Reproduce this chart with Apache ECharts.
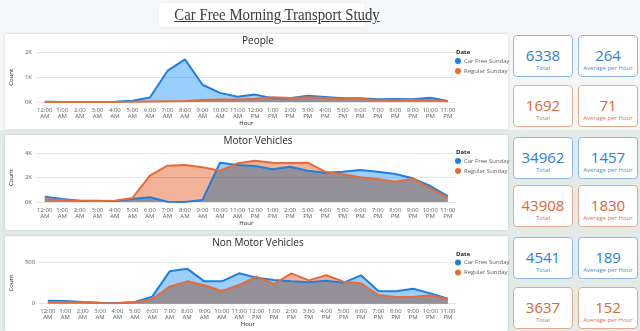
<!DOCTYPE html>
<html><head><meta charset="utf-8">
<script src="https://cdn.jsdelivr.net/npm/echarts/dist/echarts.min.js"></script>
<style>
html,body{margin:0;padding:0;width:640px;height:331px;overflow:hidden;background:#f4f6f7;font-family:'Open Sans',sans-serif;}
.kpi{position:absolute;width:58px;background:#fff;border-radius:4px;border:1px solid;text-align:center;z-index:2;}
.kpi .num{position:absolute;left:0;right:0;font-size:15px;line-height:18px;}
.kpi .lab{position:absolute;left:0;right:0;font-size:6px;line-height:8px;}
#title{position:absolute;left:159px;top:3px;width:206px;height:24px;background:#fff;border-radius:3px;box-shadow:0 0 2px rgba(0,0,0,0.08);text-align:center;font-family:'Liberation Serif',serif;font-size:17px;line-height:24px;color:#3b3b3b;z-index:2;}
#title span{display:inline-block;transform:scaleX(0.87);white-space:nowrap;text-decoration:underline;}
#chart{position:absolute;left:0;top:0;width:640px;height:331px;z-index:1;}
</style></head>
<body>
<div id="chart"></div>
<div id="title"><span>Car Free Morning Transport Study</span></div>
<div id="kpis"></div>
<script>
const hours = ['12:00\nAM','1:00\nAM','2:00\nAM','3:00\nAM','4:00\nAM','5:00\nAM','6:00\nAM','7:00\nAM','8:00\nAM','9:00\nAM','10:00\nAM','11:00\nAM',
               '12:00\nPM','1:00\nPM','2:00\nPM','3:00\nPM','4:00\nPM','5:00\nPM','6:00\nPM','7:00\nPM','8:00\nPM','9:00\nPM','10:00\nPM','11:00\nPM'];
const seriesNames = ['Car Free Sunday','Regular Sunday'];
const chartTitles = ['People','Motor Vehicles','Non Motor Vehicles'];

const peopleCarFree = [10,5,5,5,10,50,180,1260,1730,700,370,210,300,150,150,250,200,150,150,110,120,110,170,40];
const peopleRegular = [5,5,5,5,5,10,20,30,40,80,100,100,130,190,160,190,160,110,130,70,70,90,70,30];

const motorCarFree = [435,246,107,100,80,246,383,25,10,164,3227,3038,2955,2683,2900,2573,2408,2490,2627,2490,2300,1945,1313,490];
const motorRegular = [218,164,107,80,107,328,2162,2983,3038,2847,2573,3175,3394,3230,3200,3230,2490,2271,2025,1888,1670,1915,1122,355];

const nonMotorCarFree = [36,33,20,12,8,20,85,391,423,270,270,367,314,286,270,258,278,254,343,153,149,181,125,60];
const nonMotorRegular = [20,17,17,8,5,17,57,206,270,222,153,226,326,238,367,282,343,266,246,105,81,81,101,53];

const yMax = [2000, 4000, 500];
const yInterval = [1000, 2000, 500];

const kpiTotals = [[6338,1692],[34962,43908],[4541,3637]];
const kpiAverages = [[264,71],[1457,1830],[189,152]];
const kpiLabels = ['Total','Average per Hour'];

// KPI cards
const rowTops = [[35,85],[137,185],[237,287]];
const colLefts = [513,578];
const kpiStyle = [
  {border:'#8db9e6', num:'#2b80d8', lab:'#4a8fd6'},
  {border:'#e3ab91', num:'#d8673a', lab:'#d8774f'}
];
const kpiWrap = document.getElementById('kpis');
for (let r=0;r<3;r++){
  for (let s=0;s<2;s++){
    const vals = [kpiTotals[r][s], kpiAverages[r][s]];
    for (let c=0;c<2;c++){
      const d = document.createElement('div');
      d.className='kpi';
      const st = kpiStyle[s];
      d.style.left = colLefts[c]+'px';
      d.style.top = rowTops[r][s]+'px';
      d.style.height = '40px';
      d.style.borderColor = st.border;
      d.innerHTML = '<div class="num" style="top:10px;color:'+st.num+'">'+vals[c]+'</div>'+
                    '<div class="lab" style="top:28px;color:'+st.lab+'">'+kpiLabels[c]+'</div>';
      kpiWrap.appendChild(d);
    }
  }
}

const data = [[peopleCarFree,peopleRegular],[motorCarFree,motorRegular],[nonMotorCarFree,nonMotorRegular]];
const grids = [
  {left:29, right:183.4, top:52.7, bottom:229},
  {left:29, right:183.4, top:153.3, bottom:129},
  {left:29, right:183.4, top:262.3, bottom:27.3}
];
const titleTops = [36.5, 136.5, 238];
const dateTops = [49.5, 149.5, 251];
const legendTops = [58, 158, 259.5];
const panelTops = [34, 135, 236];

const blue = '#1f7fe0', orange = '#E66C37';
const graphics = [
  {type:'rect', z:-10, shape:{x:0, y:130, width:640, height:201}, style:{fill:'#e3ebe7'}, silent:true}
];
panelTops.forEach(t => graphics.push({type:'rect', z:-5, shape:{x:5, y:t, width:503, height:95, r:2},
  style:{fill:'#ffffff', shadowBlur:3, shadowColor:'rgba(0,0,0,0.15)'}, silent:true}));

const option = {
  animation:false,
  backgroundColor:'#f4f6f7',
  textStyle:{fontFamily:'Open Sans'},
  graphic: graphics,
  title: [],
  legend: [],
  grid: grids,
  xAxis: [], yAxis: [], series: []
};
for (let g=0; g<3; g++){
  option.title.push({text:chartTitles[g], left:258, top:titleTops[g], textAlign:'center', padding:0,
    textStyle:{fontSize:10, fontWeight:'normal', color:'#252423', fontFamily:'Open Sans'}});
  option.title.push({text:'Date', left:456, top:dateTops[g], padding:0,
    textStyle:{fontSize:6, fontWeight:'bold', color:'#252423', fontFamily:'Open Sans'}});
  option.legend.push({data:seriesNames, orient:'vertical', left:455, top:legendTops[g], padding:0,
    itemWidth:6, itemHeight:6, icon:'circle', itemGap:4, selectedMode:false,
    textStyle:{fontSize:6, color:'#605e5c', padding:[0,0,0,-2]}});
  option.xAxis.push({type:'category', gridIndex:g, data:hours, boundaryGap:true,
    axisTick:{show:false}, axisLine:{show:false},
    axisLabel:{fontSize:6, lineHeight:6, color:'#605e5c', margin:5, interval:0},
    name:'Hour', nameLocation:'middle', nameGap:18, nameTextStyle:{fontSize:6, color:'#252423'}});
  option.yAxis.push({type:'value', gridIndex:g, min:0, max:yMax[g], interval:yInterval[g],
    axisLabel:{fontSize:6, color:'#605e5c', margin:4,
      formatter: g<2 ? (v=>(v/1000)+'K') : (v=>String(v))},
    splitLine:{lineStyle:{color:'#e4e4e4', width:1}},
    name:'Count', nameLocation:'middle', nameGap:14.5, nameRotate:90,
    nameTextStyle:{fontSize:6, color:'#252423'}});
  const [cf, rg] = data[g];
  option.series.push({type:'line', name:seriesNames[0], xAxisIndex:g, yAxisIndex:g, data:cf, symbol:'none',
    itemStyle:{color:blue}, lineStyle:{opacity:0}, areaStyle:{color:'#118DFF', opacity:0.42}, z:1});
  option.series.push({type:'line', name:seriesNames[1], xAxisIndex:g, yAxisIndex:g, data:rg, symbol:'none',
    blendMode:'multiply',
    itemStyle:{color:orange}, lineStyle:{opacity:0}, areaStyle:{color:orange, opacity:0.52}, z:1});
  option.series.push({type:'line', name:seriesNames[0], xAxisIndex:g, yAxisIndex:g, data:cf, symbol:'none',
    itemStyle:{color:blue}, lineStyle:{color:blue, width:2}, z:3});
  option.series.push({type:'line', name:seriesNames[1], xAxisIndex:g, yAxisIndex:g, data:rg, symbol:'none',
    itemStyle:{color:orange}, lineStyle:{color:orange, width:2}, z:3});
}
const chart = echarts.init(document.getElementById('chart'), null, {renderer:'canvas'});
chart.setOption(option);
</script>
</body></html>
